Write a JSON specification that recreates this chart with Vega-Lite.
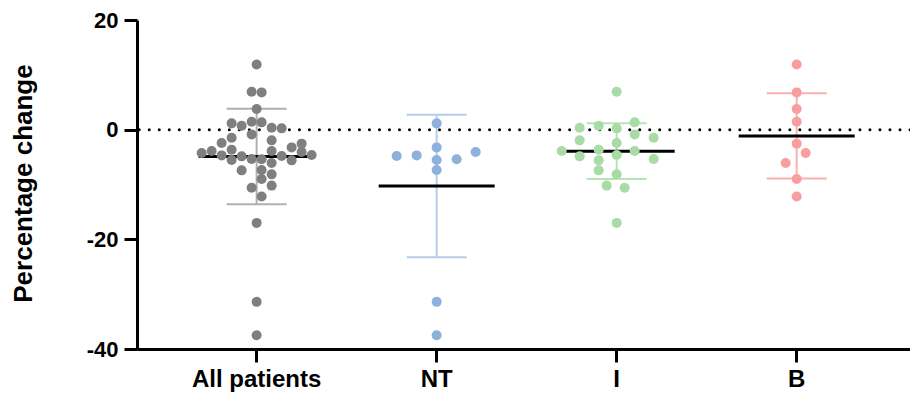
{
  "$schema": "https://vega.github.io/schema/vega-lite/v6.json",
  "width": 773,
  "height": 329,
  "autosize": {"type": "none"},
  "padding": {"left": 137, "top": 20, "right": 0, "bottom": 48},
  "background": "white",
  "config": {
    "view": {"stroke": null},
    "font": "Liberation Sans",
    "axis": {
      "domainColor": "black",
      "domainWidth": 3,
      "tickColor": "black",
      "tickWidth": 3,
      "tickSize": 13,
      "grid": false,
      "labelFont": "Liberation Sans",
      "labelFontWeight": "bold",
      "labelColor": "black",
      "titleFont": "Liberation Sans",
      "titleFontWeight": "bold",
      "titleColor": "black"
    }
  },
  "data": {
    "values": [
      {"group": "All patients", "value": 11.9, "jitter": 0},
      {"group": "All patients", "value": 6.93, "jitter": -5},
      {"group": "All patients", "value": 6.8, "jitter": 5},
      {"group": "All patients", "value": 3.76, "jitter": 0},
      {"group": "All patients", "value": 1.46, "jitter": -5},
      {"group": "All patients", "value": 1.33, "jitter": 5},
      {"group": "All patients", "value": 1.15, "jitter": -25},
      {"group": "All patients", "value": 0.73, "jitter": -15},
      {"group": "All patients", "value": 0.36, "jitter": 15},
      {"group": "All patients", "value": 0.24, "jitter": 25},
      {"group": "All patients", "value": -0.86, "jitter": -5},
      {"group": "All patients", "value": -1.46, "jitter": -25},
      {"group": "All patients", "value": -1.95, "jitter": 15},
      {"group": "All patients", "value": -2.44, "jitter": -35},
      {"group": "All patients", "value": -2.55, "jitter": 45},
      {"group": "All patients", "value": -3.23, "jitter": 35},
      {"group": "All patients", "value": -3.65, "jitter": -25},
      {"group": "All patients", "value": -3.9, "jitter": -45},
      {"group": "All patients", "value": -3.9, "jitter": 15},
      {"group": "All patients", "value": -4.07, "jitter": 45},
      {"group": "All patients", "value": -4.27, "jitter": -55},
      {"group": "All patients", "value": -4.63, "jitter": 55},
      {"group": "All patients", "value": -4.69, "jitter": -35},
      {"group": "All patients", "value": -4.8, "jitter": 25},
      {"group": "All patients", "value": -4.87, "jitter": -15},
      {"group": "All patients", "value": -5.36, "jitter": -5},
      {"group": "All patients", "value": -5.41, "jitter": 5},
      {"group": "All patients", "value": -5.53, "jitter": -25},
      {"group": "All patients", "value": -5.6, "jitter": 35},
      {"group": "All patients", "value": -6.09, "jitter": 15},
      {"group": "All patients", "value": -7.36, "jitter": 5},
      {"group": "All patients", "value": -7.42, "jitter": -15},
      {"group": "All patients", "value": -8.15, "jitter": 15},
      {"group": "All patients", "value": -9.0, "jitter": 5},
      {"group": "All patients", "value": -10.2, "jitter": 15},
      {"group": "All patients", "value": -10.6, "jitter": -5},
      {"group": "All patients", "value": -12.2, "jitter": 5},
      {"group": "All patients", "value": -17.0, "jitter": 0},
      {"group": "All patients", "value": -31.4, "jitter": 0},
      {"group": "All patients", "value": -37.5, "jitter": 0},
      {"group": "NT", "value": 1.15, "jitter": 0},
      {"group": "NT", "value": -3.23, "jitter": 0},
      {"group": "NT", "value": -4.8, "jitter": -40},
      {"group": "NT", "value": -4.69, "jitter": -20},
      {"group": "NT", "value": -5.53, "jitter": 0},
      {"group": "NT", "value": -5.41, "jitter": 20},
      {"group": "NT", "value": -4.07, "jitter": 39},
      {"group": "NT", "value": -7.36, "jitter": 0},
      {"group": "NT", "value": -31.4, "jitter": 0},
      {"group": "NT", "value": -37.5, "jitter": 0},
      {"group": "I", "value": 6.93, "jitter": 0},
      {"group": "I", "value": 0.36, "jitter": -37},
      {"group": "I", "value": 0.73, "jitter": -18},
      {"group": "I", "value": 0.24, "jitter": 0},
      {"group": "I", "value": 1.33, "jitter": 18},
      {"group": "I", "value": -0.86, "jitter": 18},
      {"group": "I", "value": -1.46, "jitter": 37},
      {"group": "I", "value": -1.95, "jitter": -37},
      {"group": "I", "value": -2.44, "jitter": 0},
      {"group": "I", "value": -3.9, "jitter": -55},
      {"group": "I", "value": -3.65, "jitter": -18},
      {"group": "I", "value": -4.63, "jitter": 0},
      {"group": "I", "value": -3.9, "jitter": 18},
      {"group": "I", "value": -4.87, "jitter": -37},
      {"group": "I", "value": -5.6, "jitter": -18},
      {"group": "I", "value": -5.36, "jitter": 37},
      {"group": "I", "value": -7.42, "jitter": -18},
      {"group": "I", "value": -8.15, "jitter": 0},
      {"group": "I", "value": -10.2, "jitter": -10},
      {"group": "I", "value": -10.6, "jitter": 8},
      {"group": "I", "value": -17.0, "jitter": 0},
      {"group": "B", "value": 11.9, "jitter": 0},
      {"group": "B", "value": 6.8, "jitter": 0},
      {"group": "B", "value": 3.76, "jitter": 0},
      {"group": "B", "value": 1.46, "jitter": 0},
      {"group": "B", "value": -2.55, "jitter": 0},
      {"group": "B", "value": -4.27, "jitter": 9},
      {"group": "B", "value": -6.09, "jitter": -11},
      {"group": "B", "value": -9.0, "jitter": 0},
      {"group": "B", "value": -12.2, "jitter": 0}
    ]
  },
  "resolve": {"scale": {"color": "independent"}},
  "layer": [
    {
      "data": {"values": [{}]},
      "mark": {"type": "rule", "color": "black", "strokeWidth": 3, "strokeDash": [0.01, 10], "strokeCap": "round", "opacity": 1},
      "encoding": {
        "y": {"datum": 0, "type": "quantitative", "scale": {"domain": [-40, 20], "nice": false, "zero": false}}
      }
    },
    {
      "transform": [
        {"aggregate": [{"op": "mean", "field": "value", "as": "mean"}, {"op": "stdev", "field": "value", "as": "sd"}], "groupby": ["group"]},
        {"calculate": "datum.mean - datum.sd", "as": "lo"},
        {"calculate": "datum.mean + datum.sd", "as": "hi"}
      ],
      "encoding": {
        "x": {
          "field": "group", "type": "nominal",
          "sort": ["All patients", "NT", "I", "B"],
          "scale": {"domain": ["All patients", "NT", "I", "B"], "paddingInner": 0, "paddingOuter": 0.147, "align": 0.56},
          "axis": {"title": null, "labelAngle": 0, "labelFontSize": 24, "labelPadding": 5}
        }
      },
      "layer": [
        {
          "mark": {"type": "rule", "strokeWidth": 2, "opacity": 1},
          "encoding": {
            "y": {"field": "lo", "type": "quantitative"},
            "y2": {"field": "hi"},
            "color": {"field": "group", "type": "nominal", "scale": {"domain": ["All patients", "NT", "I", "B"], "range": ["#b0b0b0", "#b6cce8", "#b8e3b5", "#fbb0b0"]}, "legend": null}
          }
        },
        {
          "mark": {"type": "tick", "size": 60, "thickness": 2, "opacity": 1},
          "encoding": {
            "y": {"field": "lo", "type": "quantitative"},
            "color": {"field": "group", "type": "nominal", "scale": {"domain": ["All patients", "NT", "I", "B"], "range": ["#b0b0b0", "#b6cce8", "#b8e3b5", "#fbb0b0"]}, "legend": null}
          }
        },
        {
          "mark": {"type": "tick", "size": 60, "thickness": 2, "opacity": 1},
          "encoding": {
            "y": {"field": "hi", "type": "quantitative"},
            "color": {"field": "group", "type": "nominal", "scale": {"domain": ["All patients", "NT", "I", "B"], "range": ["#b0b0b0", "#b6cce8", "#b8e3b5", "#fbb0b0"]}, "legend": null}
          }
        },
        {
          "mark": {"type": "tick", "size": 116, "thickness": 3, "color": "black", "opacity": 1},
          "encoding": {
            "y": {"field": "mean", "type": "quantitative"}
          }
        }
      ]
    },
    {
      "mark": {"type": "circle", "size": 100, "opacity": 1},
      "encoding": {
        "x": {"field": "group", "type": "nominal", "sort": ["All patients", "NT", "I", "B"]},
        "xOffset": {"field": "jitter", "type": "quantitative", "scale": {"domain": [-90, 90], "range": [0, 180]}},
        "y": {
          "field": "value", "type": "quantitative",
          "scale": {"domain": [-40, 20], "nice": false, "zero": false},
          "axis": {
            "values": [-40, -20, 0, 20],
            "labelExpr": "toString(datum.value)",
            "labelFontSize": 22,
            "labelPadding": 6,
            "title": "Percentage change",
            "titleFontSize": 26,
            "titleAngle": -90,
            "titleAlign": "center",
            "titleBaseline": "middle",
            "titleX": -114,
            "titleY": 163
          }
        },
        "color": {"field": "group", "type": "nominal", "scale": {"domain": ["All patients", "NT", "I", "B"], "range": ["#7f7f7f", "#8db0dc", "#a8dba5", "#f99e9e"]}, "legend": null}
      }
    }
  ]
}
